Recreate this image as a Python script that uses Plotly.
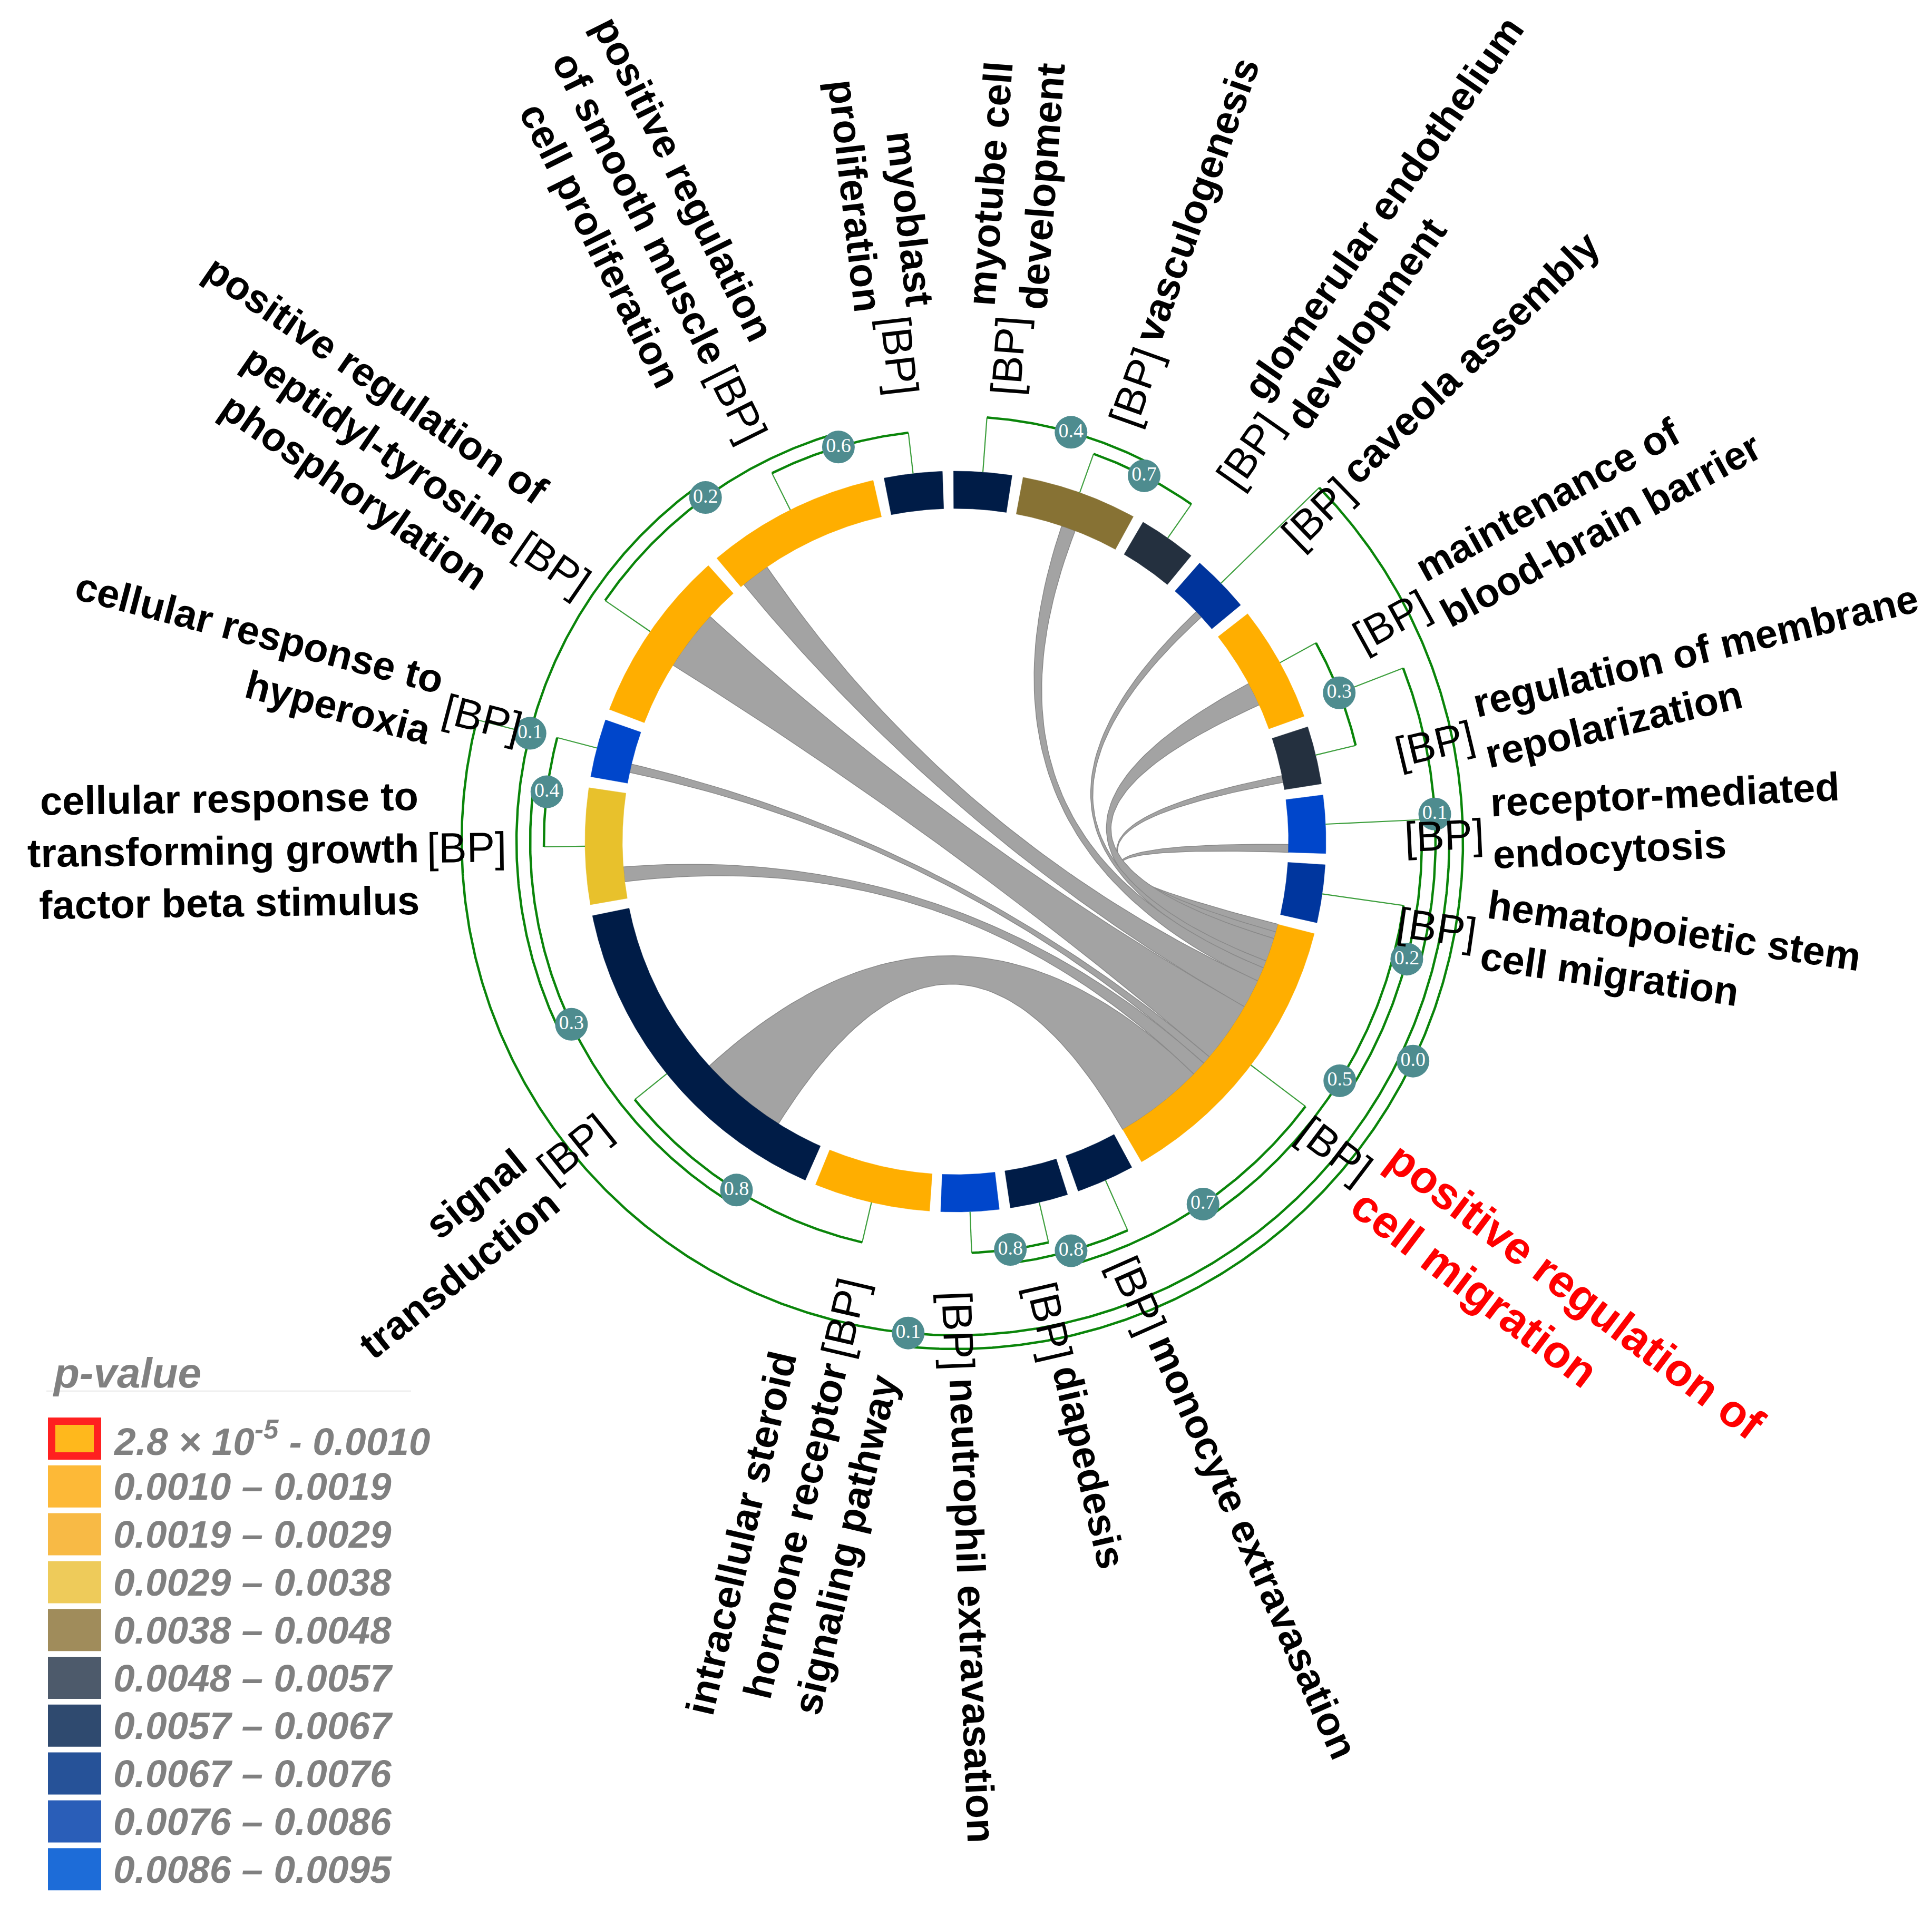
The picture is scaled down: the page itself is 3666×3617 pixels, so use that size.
import math
import plotly.graph_objects as go

# ---------------- data ----------------
terms = [
    "myotube cell development",
    "vasculogenesis",
    "glomerular endothelium development",
    "caveola assembly",
    "maintenance of blood-brain barrier",
    "regulation of membrane repolarization",
    "receptor-mediated endocytosis",
    "hematopoietic stem cell migration",
    "positive regulation of cell migration",
    "monocyte extravasation",
    "diapedesis",
    "neutrophil extravasation",
    "intracellular steroid hormone receptor signaling pathway",
    "signal transduction",
    "cellular response to transforming growth factor beta stimulus",
    "cellular response to hyperoxia",
    "positive regulation of peptidyl-tyrosine phosphorylation",
    "positive regulation of smooth muscle cell proliferation",
    "myoblast proliferation",
]
label_lines = [
    ["myotube cell", "development"],
    ["vasculogenesis"],
    ["glomerular endothelium", "development"],
    ["caveola assembly"],
    ["maintenance of", "blood-brain barrier"],
    ["regulation of membrane", "repolarization"],
    ["receptor-mediated", "endocytosis"],
    ["hematopoietic stem", "cell migration"],
    ["positive regulation of", "cell migration"],
    ["monocyte extravasation"],
    ["diapedesis"],
    ["neutrophil extravasation"],
    ["intracellular steroid", "hormone receptor", "signaling pathway"],
    ["signal", "transduction"],
    ["cellular response to", "transforming growth", "factor beta stimulus"],
    ["cellular response to", "hyperoxia"],
    ["positive regulation of", "peptidyl-tyrosine", "phosphorylation"],
    ["positive regulation", "of smooth muscle", "cell proliferation"],
    ["myoblast", "proliferation"],
]
gene_counts = [1, 2, 1, 1, 2, 1, 1, 1, 5, 1, 1, 1, 2, 6, 2, 1, 3, 3, 1]
segment_colors = [
    "#001C47", "#877234", "#24303F", "#00349C", "#FFAE00", "#24303F", "#0046CB",
    "#00369E", "#FFAE00", "#001C47", "#001C47", "#0046CB", "#FFAE00", "#001C47",
    "#E8C12C", "#0046CB", "#FFAE00", "#FFAE00", "#001C47",
]
hub_term = "positive regulation of cell migration"

# chords to the hub term (order along the hub, widths and offsets in gene units)
chord_terms = [
    "receptor-mediated endocytosis",
    "regulation of membrane repolarization",
    "maintenance of blood-brain barrier",
    "caveola assembly",
    "vasculogenesis",
    "positive regulation of smooth muscle cell proliferation",
    "positive regulation of peptidyl-tyrosine phosphorylation",
    "cellular response to hyperoxia",
    "cellular response to transforming growth factor beta stimulus",
    "signal transduction",
]
chord_sizes = [0.15, 0.13, 0.45, 0.14, 0.27, 0.55, 1.16, 0.16, 0.28, 1.71]
chord_offsets = [0.85, 0.73, 1.06, 0.56, 0.89, 0.07, 1.22, 0.21, 0.32, 0.90]

# similarity tree: (node id, node value, children)
tree_nodes = [
    ("A", "0.6", ["positive regulation of smooth muscle cell proliferation", "myoblast proliferation"]),
    ("B", "0.2", ["positive regulation of peptidyl-tyrosine phosphorylation", "A"]),
    ("D", "0.4", ["cellular response to transforming growth factor beta stimulus", "cellular response to hyperoxia"]),
    ("F", "0.8", ["intracellular steroid hormone receptor signaling pathway", "signal transduction"]),
    ("E", "0.3", ["F", "D"]),
    ("C", "0.1", ["E", "B"]),
    ("H", "0.8", ["diapedesis", "neutrophil extravasation"]),
    ("I", "0.8", ["monocyte extravasation", "H"]),
    ("J", "0.7", [hub_term, "I"]),
    ("K", "0.5", ["hematopoietic stem cell migration", "J"]),
    ("M", "0.2", ["receptor-mediated endocytosis", "K"]),
    ("O", "0.3", ["maintenance of blood-brain barrier", "regulation of membrane repolarization"]),
    ("N", "0.1", ["O", "M"]),
    ("G", "0.1", ["N", "C"]),
    ("L", "0.0", ["caveola assembly", "G"]),
    ("P", "0.7", ["vasculogenesis", "glomerular endothelium development"]),
    ("Q", "0.4", ["myotube cell development", "P"]),
]

legend_title = "p-value"
legend_labels = [
    "2.8 × 10<sup>-5</sup> - 0.0010", "0.0010 – 0.0019", "0.0019 – 0.0029",
    "0.0029 – 0.0038", "0.0038 – 0.0048", "0.0048 – 0.0057", "0.0057 – 0.0067",
    "0.0067 – 0.0076", "0.0076 – 0.0086", "0.0086 – 0.0095",
]
legend_colors = [
    "#FFB81C", "#FDB937", "#F8BA45", "#EECB5A", "#A08C5B",
    "#4D5A6B", "#2F4A6F", "#265298", "#2A5EB8", "#1D6CD8",
]

# ---------------- layout constants ----------------
OFF = 8                      # page body margin
W, H = 3666 - 2 * OFF, 3617 - 2 * OFF
CX, CY = 1813 - OFF, 1597 - OFF
R_IN, R_OUT = 632, 703
GAP = 1.725
START = -0.3
TREE_R0, TREE_STEP = 755, 26
R_BP, R_NAME0 = 928, 1018
NAME_FS, HUB_FS, BP_FS = 76, 86, 80
GREEN = "#0A850A"
GREEN_THIN = "#3C9E3C"
TEAL = "#4E8C8F"
FONT = "Liberation Sans, Arial, sans-serif"


def polar(r, th):
    t = math.radians(th)
    return r * math.sin(t), r * math.cos(t)


def arc(r, a0, a1):
    n = max(3, int(abs(a1 - a0) * 3) + 2)
    return [polar(r, a0 + (a1 - a0) * k / (n - 1)) for k in range(n)]


def bez(p0, p2, n=60):
    pts = []
    for k in range(n + 1):
        t = k / n
        pts.append(((1 - t) ** 2 * p0[0] + t ** 2 * p2[0], (1 - t) ** 2 * p0[1] + t ** 2 * p2[1]))
    return pts


unit = (360 - GAP * len(gene_counts)) / sum(gene_counts)
seg_start, seg_end = {}, {}
cum = 0
for i, (t, g) in enumerate(zip(terms, gene_counts)):
    a0 = START + cum * unit + i * GAP
    seg_start[t] = a0
    seg_end[t] = a0 + g * unit
    cum += g
leaf_angle = {t: (seg_start[t] + seg_end[t]) / 2 for t in terms}

fig = go.Figure()

# ---------------- chords ----------------
hub_pos = seg_start[hub_term]
for t, s, o in zip(chord_terms, chord_sizes, chord_offsets):
    a1 = seg_start[t] + o * unit
    a2 = a1 + s * unit
    b1 = hub_pos
    b2 = hub_pos + s * unit
    hub_pos = b2
    pts = arc(R_IN, a1, a2)
    pts += bez(polar(R_IN, a2), polar(R_IN, b1))
    pts += arc(R_IN, b1, b2)
    pts += bez(polar(R_IN, b2), polar(R_IN, a1))
    fig.add_trace(go.Scatter(
        x=[p[0] for p in pts], y=[p[1] for p in pts], mode="lines", fill="toself",
        fillcolor="#A3A3A3", line=dict(color="#8A8A8A", width=1.5),
        hoverinfo="text", text=t, showlegend=False))

# ---------------- segments ----------------
for t, c in zip(terms, segment_colors):
    pts = arc(R_OUT, seg_start[t], seg_end[t]) + arc(R_IN, seg_end[t], seg_start[t])
    pts.append(pts[0])
    fig.add_trace(go.Scatter(
        x=[p[0] for p in pts], y=[p[1] for p in pts], mode="lines", fill="toself",
        fillcolor=c, line=dict(color=c, width=0.5), hoverinfo="text", text=t,
        showlegend=False))

# ---------------- tree ----------------
node_angle = dict(leaf_angle)
node_height = {t: 0 for t in terms}
node_r = {t: R_OUT for t in terms}
for nid, val, ch in tree_nodes:
    angs = [node_angle[c] for c in ch]
    node_height[nid] = max(node_height[c] for c in ch) + 1
    node_r[nid] = TREE_R0 + TREE_STEP * node_height[nid]
    node_angle[nid] = (min(angs) + max(angs)) / 2

thin_x, thin_y, thick_x, thick_y = [], [], [], []
for nid, val, ch in tree_nodes:
    r = node_r[nid]
    angs = sorted(node_angle[c] for c in ch)
    pts = arc(r, angs[0], angs[-1])
    thick_x += [p[0] for p in pts] + [None]
    thick_y += [p[1] for p in pts] + [None]
    for c in ch:
        p0 = polar(node_r[c], node_angle[c])
        p1 = polar(r, node_angle[c])
        thin_x += [p0[0], p1[0], None]
        thin_y += [p0[1], p1[1], None]

fig.add_trace(go.Scatter(x=thin_x, y=thin_y, mode="lines",
                         line=dict(color=GREEN_THIN, width=2.2), hoverinfo="skip", showlegend=False))
fig.add_trace(go.Scatter(x=thick_x, y=thick_y, mode="lines",
                         line=dict(color=GREEN, width=4.5), hoverinfo="skip", showlegend=False))

nx, ny, nt = [], [], []
for nid, val, ch in tree_nodes:
    p = polar(node_r[nid], node_angle[nid])
    nx.append(p[0]); ny.append(p[1]); nt.append(val)
fig.add_trace(go.Scatter(
    x=nx, y=ny, mode="markers+text", text=nt, textposition="middle center",
    marker=dict(size=62, color=TEAL, line=dict(width=0)),
    textfont=dict(family="Liberation Serif, Times New Roman, serif", size=38, color="white"),
    hoverinfo="text", showlegend=False))

# ---------------- labels ----------------
BOLD_W = {'a': 556, 'b': 611, 'c': 556, 'd': 611, 'e': 556, 'f': 333, 'g': 611, 'h': 611,
          'i': 278, 'j': 278, 'k': 556, 'l': 278, 'm': 889, 'n': 611, 'o': 611, 'p': 611,
          'q': 611, 'r': 389, 's': 556, 't': 333, 'u': 611, 'v': 556, 'w': 778, 'x': 556,
          'y': 556, 'z': 500, ' ': 278, '-': 333}


def text_w(s, size):
    return sum(BOLD_W.get(ch, 600) for ch in s) / 1000 * size


def norm(a):
    return (a + 180) % 360 - 180


annotations = []
for t, lines in zip(terms, label_lines):
    th = leaf_angle[t]
    hub = t == hub_term
    fs = HUB_FS if hub else NAME_FS
    col = "#FF0000" if hub else "black"
    w = max(text_w(l, fs) for l in lines)
    if th < 180:
        a_bp, a_nm, rot, align = th + 2.0, th + 1.0, th - 90, "left"
    else:
        a_bp, a_nm, rot, align = th, th, th + 90, "right"
    x, y = polar(R_BP, a_bp)
    annotations.append(dict(x=x, y=y, xref="x", yref="y", text="[BP]", showarrow=False,
                            textangle=norm(rot), xanchor="center", yanchor="middle",
                            font=dict(family=FONT, size=BP_FS, color="black")))
    x, y = polar(R_NAME0 + w / 2, a_nm)
    annotations.append(dict(x=x, y=y, xref="x", yref="y",
                            text="<br>".join("<b>%s</b>" % l for l in lines),
                            showarrow=False, textangle=norm(rot), align=align,
                            xanchor="center", yanchor="middle",
                            font=dict(family=FONT, size=fs, color=col)))

# ---------------- legend ----------------
shapes = []
LX0, LX1 = 91 - OFF - CX, 192 - OFF - CX
row0, pitch, half = 2730 - OFF, 90.8, 40
annotations.append(dict(x=98 - OFF - CX, y=CY - (2605 - OFF), xref="x", yref="y",
                        text="<b><i>%s</i></b>" % legend_title, showarrow=False,
                        xanchor="left", yanchor="middle",
                        font=dict(family=FONT, size=80, color="#808080")))
shapes.append(dict(type="line", x0=88 - OFF - CX, x1=780 - OFF - CX,
                   y0=CY - (2640 - OFF), y1=CY - (2640 - OFF), xref="x", yref="y",
                   line=dict(color="#EFEFEF", width=3)))
for k, (lab, c) in enumerate(zip(legend_labels, legend_colors)):
    yc = CY - (row0 + k * pitch)
    if k == 0:
        shapes.append(dict(type="rect", x0=LX0 + 7, x1=LX1 - 7, y0=yc - half + 7, y1=yc + half - 7,
                           xref="x", yref="y", fillcolor=c, line=dict(color="#FF2020", width=14)))
    else:
        shapes.append(dict(type="rect", x0=LX0, x1=LX1, y0=yc - half, y1=yc + half,
                           xref="x", yref="y", fillcolor=c, line=dict(width=0)))
    annotations.append(dict(x=213 - OFF - CX, y=yc, xref="x", yref="y",
                            text="<b><i>%s</i></b>" % lab, showarrow=False,
                            xanchor="left", yanchor="middle",
                            font=dict(family=FONT, size=73, color="#808080")))

fig.update_layout(
    width=W, height=H, margin=dict(l=0, r=0, t=0, b=0),
    paper_bgcolor="white", plot_bgcolor="white",
    xaxis=dict(range=[-CX, W - CX], visible=False, fixedrange=True),
    yaxis=dict(range=[-(H - CY), CY], visible=False, fixedrange=True),
    annotations=annotations, shapes=shapes, showlegend=False,
)
fig.write_html("out.html")
